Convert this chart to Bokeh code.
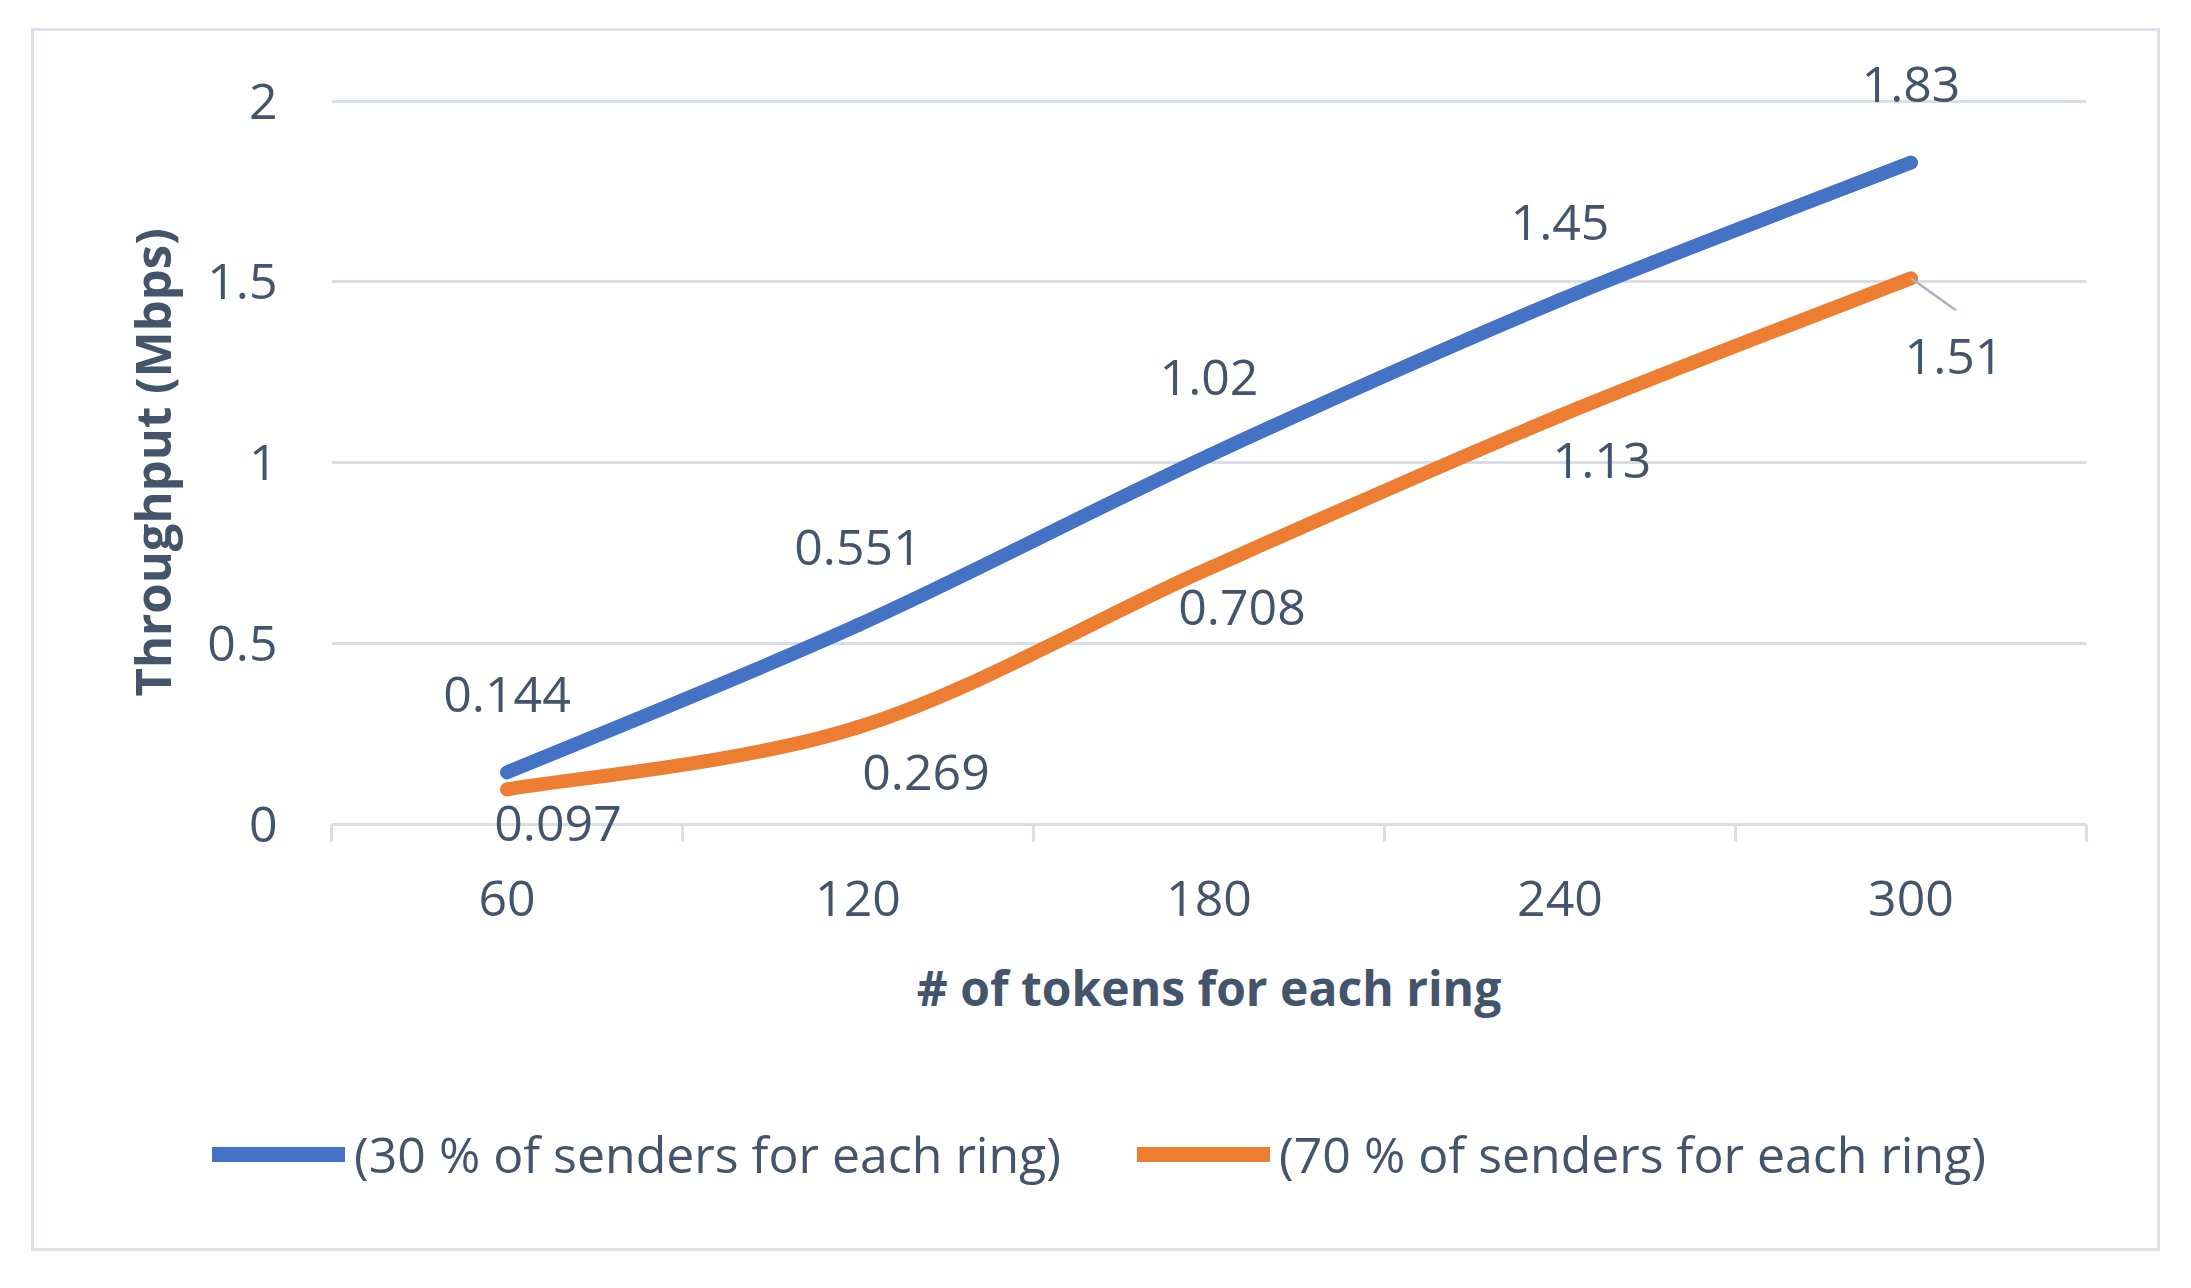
import numpy as np
from bokeh.plotting import figure
from bokeh.models import (LinearAxis, FixedTicker, ColumnDataSource, Label,
                          Legend, LegendItem, Range1d, Title)
from bokeh.embed import file_html
from bokeh.resources import INLINE

# ---------------- data ----------------
categories = ["60", "120", "180", "240", "300"]
series_30 = [0.144, 0.551, 1.02, 1.45, 1.83]
series_70 = [0.097, 0.269, 0.708, 1.13, 1.51]
y_ticks = [0, 0.5, 1, 1.5, 2]
y_tick_labels = ["0", "0.5", "1", "1.5", "2"]
legend_30 = "(30 % of senders for each ring)"
legend_70 = "(70 % of senders for each ring)"
x_title = "# of tokens for each ring"
y_title = "Throughput (Mbps)"

# label placement (screen pixels, layout only)
off_30_x = [0, 0, 0, 0, 0]
off_30_y = [78, 78, 78, 78, 78]
off_70_x = [51, 68, 33, 42, 43]
off_70_y = [-34, -45, -39, -45, -78]

# ---------------- style ----------------
BLUE = "#4472C4"
ORANGE = "#ED7D31"
TEXT = "#44546A"
GRID = "#D9DEE6"
FONT = "Open Sans"
FS = "50px"
LW = 14

W, H = 2123, 1217
FRAME_TOP = 10        # px inside chart figure
FRAME_BOTTOM = 810
Y_MAX_PX = 69.6       # pixel row of y = 2 within the chart figure
Y_ZERO_PX = 793       # pixel row of y = 0 within the chart figure
ppy = (Y_ZERO_PX - Y_MAX_PX) / (y_ticks[-1] - y_ticks[0])
y_lo = y_ticks[0] - (FRAME_BOTTOM - Y_ZERO_PX) / ppy
y_hi = y_ticks[-1] + (Y_MAX_PX - FRAME_TOP) / ppy

xs = list(range(1, len(categories) + 1))

p = figure(width=W, height=H, x_range=Range1d(0.5, len(categories) + 0.5),
           y_range=Range1d(y_lo, y_hi), output_backend="svg", toolbar_location=None,
           x_axis_location=None, min_border_left=297, min_border_right=71,
           min_border_top=FRAME_TOP, min_border_bottom=H - FRAME_BOTTOM)
p.margin = (31, 0, 0, 34)
p.styles = {"outline": "3px solid #DDE1E7"}
p.outline_line_color = None
p.background_fill_color = "white"
p.border_fill_color = "white"

# grid
p.xgrid.visible = False
p.ygrid.ticker = FixedTicker(ticks=y_ticks)
p.ygrid.grid_line_color = GRID
p.ygrid.grid_line_width = 3

# y axis
ya = p.yaxis[0]
ya.ticker = FixedTicker(ticks=y_ticks)
ya.major_label_overrides = {t: l for t, l in zip(y_ticks, y_tick_labels)}
ya.axis_line_color = None
ya.major_tick_line_color = None
ya.minor_tick_line_color = None
ya.major_tick_out = 0
ya.major_tick_in = 0
ya.major_label_standoff = 54
ya.major_label_text_font = FONT
ya.major_label_text_font_size = FS
ya.major_label_text_color = TEXT

# y axis title (side title so it can be centred on the 0..2 span)
p.add_layout(Title(text=y_title, align="left", offset=145, standoff=40,
                   text_font=FONT, text_font_size="49px", text_font_style="bold",
                   text_color=TEXT), "left")

# x axis: tick marks at category boundaries (pointing up to the y = 0 line)
bounds = [x - 0.5 for x in xs] + [xs[-1] + 0.5]
ax_ticks = LinearAxis(ticker=FixedTicker(ticks=bounds),
                      major_label_overrides={b: "" for b in bounds},
                      axis_line_color=None,
                      major_tick_line_color=GRID, major_tick_line_width=3,
                      major_tick_out=0, major_tick_in=FRAME_BOTTOM - Y_ZERO_PX,
                      minor_tick_line_color=None,
                      major_label_text_font_size="1px",
                      major_label_standoff=0)
p.add_layout(ax_ticks, "below")

# x axis: category labels
ax_lab = LinearAxis(ticker=FixedTicker(ticks=xs),
                    major_label_overrides={x: c for x, c in zip(xs, categories)},
                    axis_line_color=None, major_tick_line_color=None,
                    minor_tick_line_color=None, major_tick_out=0, major_tick_in=0,
                    major_label_standoff=39,
                    major_label_text_font=FONT, major_label_text_font_size=FS,
                    major_label_text_color=TEXT,
                    axis_label=x_title, axis_label_text_font=FONT,
                    axis_label_text_font_style="bold", axis_label_text_font_size="48px",
                    axis_label_text_color=TEXT, axis_label_standoff=36)
p.add_layout(ax_lab, "below")


# smoothed lines (cubic Bezier through the data points, Excel-style smoothing)
def bezier_segments(xv, yv):
    n = len(xv)
    P = [np.array([xv[i], yv[i]], dtype=float) for i in range(n)]
    seg = dict(x0=[], y0=[], x1=[], y1=[], cx0=[], cy0=[], cx1=[], cy1=[])
    for i in range(n - 1):
        p0 = P[i - 1] if i > 0 else P[i]
        p1 = P[i]
        p2 = P[i + 1]
        p3 = P[i + 2] if i + 2 < n else P[i + 1]
        c1 = p1 + (p2 - p0) / 6.0
        c2 = p2 - (p3 - p1) / 6.0
        seg["x0"].append(p1[0]); seg["y0"].append(p1[1])
        seg["x1"].append(p2[0]); seg["y1"].append(p2[1])
        seg["cx0"].append(c1[0]); seg["cy0"].append(c1[1])
        seg["cx1"].append(c2[0]); seg["cy1"].append(c2[1])
    return ColumnDataSource(seg)


for ys, col in ((series_30, BLUE), (series_70, ORANGE)):
    p.bezier(x0="x0", y0="y0", x1="x1", y1="y1", cx0="cx0", cy0="cy0",
             cx1="cx1", cy1="cy1", source=bezier_segments(xs, ys),
             line_color=col, line_width=LW, line_cap="round")

# leader line for last orange label
ppx = (W - 71 - 297) / len(categories)
p.segment(x0=[xs[-1]], y0=[series_70[-1]],
          x1=[xs[-1] + 45 / ppx], y1=[series_70[-1] - 32 / ppy],
          line_color="#A9B3BF", line_width=2.5)

# data labels
for ys, ox, oy in ((series_30, off_30_x, off_30_y), (series_70, off_70_x, off_70_y)):
    for x, y, dx, dy in zip(xs, ys, ox, oy):
        p.add_layout(Label(x=x, y=y, text=str(y), x_offset=dx, y_offset=dy,
                           text_align="center", text_baseline="middle",
                           text_font=FONT, text_font_size=FS, text_color=TEXT))

# legend strip: separate root laid over the bottom of the chart
LEG_H = 188
pl = figure(width=W, height=LEG_H, output_backend="svg", toolbar_location=None,
            x_axis_location=None, y_axis_location=None, min_border=0,
            x_range=Range1d(0, 1), y_range=Range1d(0, 1))
pl.styles = {"position": "absolute", "left": "34px", "top": "%dpx" % (31 + H - LEG_H)}
pl.outline_line_color = None
pl.xgrid.visible = False
pl.ygrid.visible = False
pl.background_fill_alpha = 0
pl.border_fill_alpha = 0
r30 = pl.line(x=xs, y=series_30, line_color=BLUE, line_width=15, line_cap="round",
              visible=False)
r70 = pl.line(x=xs, y=series_70, line_color=ORANGE, line_width=15, line_cap="round",
              visible=False)
legend = Legend(items=[LegendItem(label=legend_30, renderers=[r30]),
                       LegendItem(label=legend_70, renderers=[r70])],
                orientation="horizontal", location=(178, 60),
                border_line_color=None, background_fill_alpha=0,
                inactive_fill_alpha=0,
                label_text_font=FONT, label_text_font_size=FS,
                label_text_color=TEXT, glyph_width=133, glyph_height=40,
                label_standoff=9, spacing=76, padding=0, margin=0)
pl.add_layout(legend, "center")

open("out.html", "w").write(file_html([p, pl], INLINE))
